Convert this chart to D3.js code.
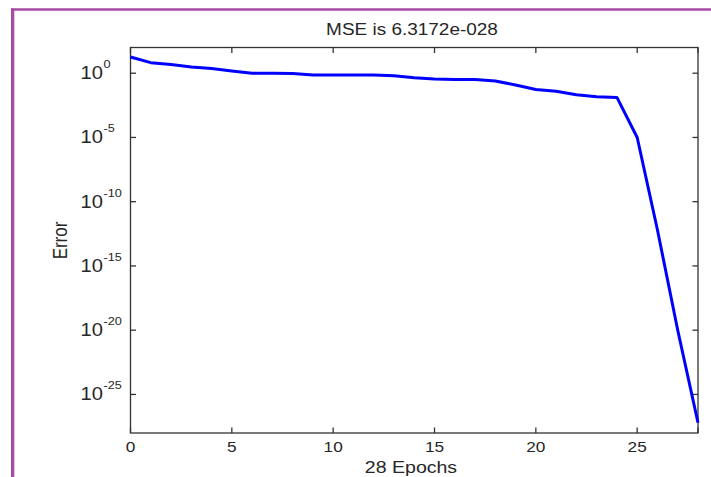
<!DOCTYPE html>
<html>
<head>
<meta charset="utf-8">
<script src="https://cdn.jsdelivr.net/npm/d3@7"></script>
<style>
  body { margin: 0; background: #fff; }
  svg { display: block; font-family: "Liberation Sans", Arial, sans-serif; }
</style>
</head>
<body>
<svg id="chart" width="711" height="477"></svg>
<script>
// data
const epochs = [0, 1, 2, 3, 4, 5, 6, 7, 8, 9, 10, 11, 12, 13, 14, 15, 16, 17, 18, 19, 20, 21, 22, 23, 24, 25, 26, 27, 28];
const errors = [18, 6.6, 4.7, 3.1, 2.3, 1.5, 1.0, 1.0, 0.93, 0.74, 0.74, 0.74, 0.74, 0.62, 0.45, 0.36, 0.32, 0.32, 0.25,
                0.12, 0.054, 0.04, 0.021, 0.015, 0.013, 1e-5, 6.3e-13, 1e-20, 6.3172e-28];
const xTicks = [0, 5, 10, 15, 20, 25];
const yTickExps = [0, -5, -10, -15, -20, -25];

const titleText = "MSE is 6.3172e-028";
const xLabel = "28 Epochs";
const yLabel = "Error";

const svg = d3.select("#chart");

const pLeft = 130.5, pRight = 698, pTop = 47.5, pBottom = 433;
const sx = 1.15; // picture is stretched sideways
const ink = "#262626";
const axisCol = "#333";

const x = d3.scaleLinear().domain([0, 28]).range([pLeft, pRight]);
const y = d3.scaleLog().domain([1e-28, 1e2]).range([pBottom, pTop]);

// purple frame
svg.append("line")
    .attr("x1", 11).attr("x2", 711).attr("y1", 9.5).attr("y2", 9.5)
    .attr("stroke", "#a64aa4").attr("stroke-width", 2.5);
svg.append("line")
    .attr("x1", 12.5).attr("x2", 12.5).attr("y1", 8.5).attr("y2", 477)
    .attr("stroke", "#a64aa4").attr("stroke-width", 3);
svg.append("line")
    .attr("x1", 14.6).attr("x2", 14.6).attr("y1", 11).attr("y2", 477)
    .attr("stroke", "#e3cde3").attr("stroke-width", 1.2);

// box
svg.append("rect")
    .attr("x", pLeft).attr("y", pTop)
    .attr("width", pRight - pLeft).attr("height", pBottom - pTop)
    .attr("fill", "none").attr("stroke", axisCol).attr("stroke-width", 1.3);

// ticks (inward, on all four sides)
const tk = 5.5;
const tg = svg.append("g");
xTicks.concat([28]).forEach(t => {
    tg.append("line").attr("x1", x(t)).attr("x2", x(t)).attr("y1", pBottom).attr("y2", pBottom - tk)
        .attr("stroke", axisCol).attr("stroke-width", 1.3);
    tg.append("line").attr("x1", x(t)).attr("x2", x(t)).attr("y1", pTop).attr("y2", pTop + tk)
        .attr("stroke", axisCol).attr("stroke-width", 1.3);
});
yTickExps.forEach(e => {
    const yy = y(Math.pow(10, e));
    tg.append("line").attr("x1", pLeft).attr("x2", pLeft + tk).attr("y1", yy).attr("y2", yy)
        .attr("stroke", axisCol).attr("stroke-width", 1.3);
    tg.append("line").attr("x1", pRight).attr("x2", pRight - tk).attr("y1", yy).attr("y2", yy)
        .attr("stroke", axisCol).attr("stroke-width", 1.3);
});

// x tick labels
xTicks.forEach(t => {
    svg.append("text")
        .attr("transform", `translate(${x(t)},451.5) scale(${sx},1)`)
        .attr("text-anchor", "middle")
        .attr("font-size", 15)
        .attr("fill", ink)
        .text(t);
});

// y tick labels 10^e
yTickExps.forEach(e => {
    const g = svg.append("g")
        .attr("transform", `translate(103,${y(Math.pow(10, e)) + 6}) scale(${sx},1)`);
    g.append("text")
        .attr("text-anchor", "end")
        .attr("font-size", 17.5)
        .attr("fill", ink)
        .text("10");
    g.append("text")
        .attr("x", 0.5).attr("y", -11)
        .attr("font-size", 11)
        .attr("fill", ink)
        .text(e === 0 ? "0" : "-" + Math.abs(e));
});

// title and axis labels
svg.append("text")
    .attr("transform", `translate(412,35) scale(${sx},1)`)
    .attr("text-anchor", "middle")
    .attr("font-size", 16.5)
    .attr("fill", ink)
    .text(titleText);

svg.append("text")
    .attr("transform", `translate(411,472.5) scale(${sx},1)`)
    .attr("text-anchor", "middle")
    .attr("font-size", 17)
    .attr("fill", ink)
    .text(xLabel);

svg.append("text")
    .attr("transform", `translate(66.5,240.5) scale(${sx},1) rotate(-90)`)
    .attr("text-anchor", "middle")
    .attr("font-size", 17)
    .attr("fill", ink)
    .text(yLabel);

// error curve
const line = d3.line()
    .x((d, i) => x(epochs[i]))
    .y(d => y(d));

svg.append("path")
    .datum(errors)
    .attr("d", line)
    .attr("fill", "none")
    .attr("stroke", "#0000ff")
    .attr("stroke-width", 3)
    .attr("stroke-linejoin", "round");
</script>
</body>
</html>
